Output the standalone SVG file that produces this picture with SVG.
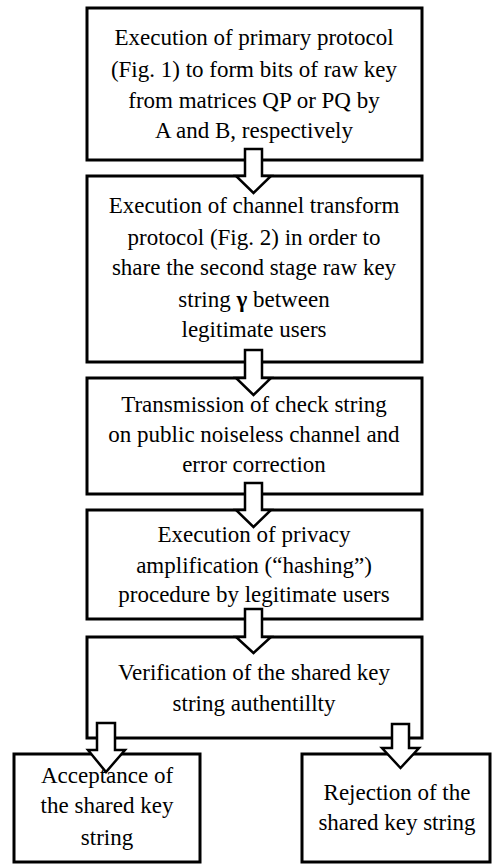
<svg xmlns="http://www.w3.org/2000/svg" width="494" height="864" viewBox="0 0 494 864">
<style>
.box{fill:#fff;stroke:#000;stroke-width:3}
.arr{fill:#fff;stroke:#000;stroke-width:2.5}
</style>
<rect width="494" height="864" fill="#fff"/>
<g id="n1"><rect class="box" x="87" y="8" width="335" height="152"/>
<text x="254" y="45" font-family="'Liberation Serif'" font-size="23" text-anchor="middle">Execution of primary protocol</text>
<text x="254" y="77" font-family="'Liberation Serif'" font-size="23" text-anchor="middle">(Fig. 1) to form bits of raw key</text>
<text x="254" y="108" font-family="'Liberation Serif'" font-size="23" text-anchor="middle">from matrices QP or PQ by</text>
<text x="254" y="138" font-family="'Liberation Serif'" font-size="23" text-anchor="middle">A and B, respectively</text></g>
<g id="n2"><rect class="box" x="87" y="176" width="335" height="186"/>
<text x="254" y="213" font-family="'Liberation Serif'" font-size="23" text-anchor="middle">Execution of channel transform</text>
<text x="254" y="245" font-family="'Liberation Serif'" font-size="23" text-anchor="middle">protocol (Fig. 2) in order to</text>
<text x="254" y="275" font-family="'Liberation Serif'" font-size="23" text-anchor="middle">share the second stage raw key</text>
<text x="254" y="307" font-family="'Liberation Serif'" font-size="23" text-anchor="middle">string <tspan font-weight="bold">&#947;</tspan> between</text>
<text x="254" y="337" font-family="'Liberation Serif'" font-size="23" text-anchor="middle">legitimate users</text></g>
<g id="n3"><rect class="box" x="87" y="378" width="335" height="116"/>
<text x="254" y="412" font-family="'Liberation Serif'" font-size="23" text-anchor="middle">Transmission of check string</text>
<text x="254" y="442" font-family="'Liberation Serif'" font-size="23" text-anchor="middle">on public noiseless channel and</text>
<text x="254" y="472" font-family="'Liberation Serif'" font-size="23" text-anchor="middle">error correction</text></g>
<g id="n4"><rect class="box" x="87" y="510" width="335" height="109"/>
<text x="254" y="542" font-family="'Liberation Serif'" font-size="23" text-anchor="middle">Execution of privacy</text>
<text x="254" y="573" font-family="'Liberation Serif'" font-size="23" text-anchor="middle">amplification (&#8220;hashing&#8221;)</text>
<text x="254" y="602" font-family="'Liberation Serif'" font-size="23" text-anchor="middle">procedure by legitimate users</text></g>
<g id="n5"><rect class="box" x="87" y="637" width="335" height="101"/>
<text x="254" y="680" font-family="'Liberation Serif'" font-size="23" text-anchor="middle">Verification of the shared key</text>
<text x="254" y="711" font-family="'Liberation Serif'" font-size="23" text-anchor="middle">string authentillty</text></g>
<g id="n6"><rect class="box" x="14" y="754" width="186" height="108"/>
<text x="107" y="783" font-family="'Liberation Serif'" font-size="23" text-anchor="middle">Acceptance of</text>
<text x="107" y="813" font-family="'Liberation Serif'" font-size="23" text-anchor="middle">the shared key</text>
<text x="107" y="845" font-family="'Liberation Serif'" font-size="23" text-anchor="middle">string</text></g>
<g id="n7"><rect class="box" x="302" y="754" width="188" height="108"/>
<text x="397" y="800" font-family="'Liberation Serif'" font-size="23" text-anchor="middle">Rejection of the</text>
<text x="397" y="830" font-family="'Liberation Serif'" font-size="23" text-anchor="middle">shared key string</text></g>
<g id="connectors">
<path class="arr" d="M245,149 H262 V176 H271 L253.5,193 L236,176 H245 Z"/>
<path class="arr" d="M245,350 H262 V378 H271 L253.5,395 L236,378 H245 Z"/>
<path class="arr" d="M245,483 H262 V510 H271 L253.5,527 L236,510 H245 Z"/>
<path class="arr" d="M245,609 H262 V637 H271 L253.5,653 L236,637 H245 Z"/>
<path class="arr" d="M97,723 H115 V750 H125 L106,772 L88,750 H97 Z"/>
<path class="arr" d="M392,724 H409 V748 H419 L400.5,768 L382,748 H392 Z"/>
</g>
</svg>
